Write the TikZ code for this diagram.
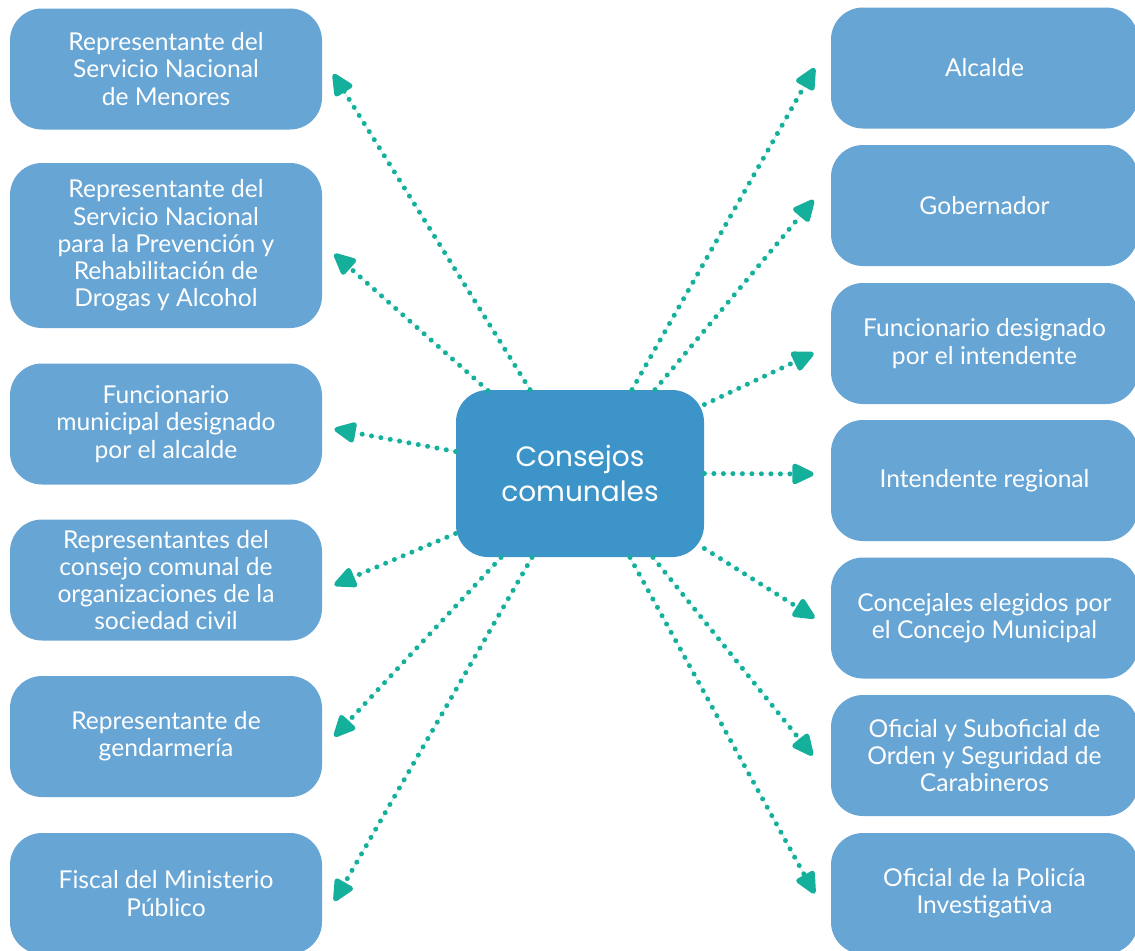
\documentclass[tikz,border=0pt]{standalone}
\usepackage{fontspec}
\setmainfont{Lato}
\newfontfamily\headfont{Poppins}
\usetikzlibrary{calc,arrows.meta}
\definecolor{boxblue}{RGB}{103,165,213}
\definecolor{mainblue}{RGB}{61,148,201}
\definecolor{linkteal}{RGB}{21,176,155}

\begin{document}
\begin{tikzpicture}[x=0.5pt,y=-0.5pt,
    member/.style={rectangle,rounded corners=16pt,fill=boxblue,text=white,inner sep=0pt,
        minimum width=156pt,minimum height=60.5pt,align=center,
        font=\fontsize{12.3}{13.6}\selectfont},
    council/.style={rectangle,rounded corners=16pt,fill=mainblue,text=white,inner sep=0pt,
        minimum width=124pt,minimum height=83.5pt,align=center,
        font=\headfont\fontsize{14}{17.5}\selectfont},
    link/.style={draw=linkteal,line width=2.5pt,line cap=round,
        dash pattern=on 0pt off 4.75pt,
        -{Triangle[length=12.5pt,width=11pt,round=false]},fill=linkteal}]
    \useasboundingbox (0,0) rectangle (1135,950);

    % left column
    \node[member] (sename) at (166,69) {Representante del\\Servicio Nacional\\de Menores};
    \node[member,minimum height=82.5pt] (senda) at (166,245.5) {Representante del\\Servicio Nacional\\para la Prevención y\\Rehabilitación de\\Drogas y Alcohol};
    \node[member] (funmun) at (166,424) {Funcionario\\municipal designado\\por el alcalde};
    \node[member] (orgciv) at (166,580) {Representantes del\\consejo comunal de\\organizaciones de la\\sociedad civil};
    \node[member] (gend) at (166,736.5) {Representante de\\gendarmería};
    \node[member] (fiscal) at (166,893.5) {Fiscal del Ministerio\\Público};

    % right column
    \node[member,minimum width=153.5pt] (alcalde) at (984.5,68) {Alcalde};
    \node[member,minimum width=153.5pt] (gober) at (984.5,205.5) {Gobernador};
    \node[member,minimum width=153.5pt] (funint) at (984.5,343.5) {Funcionario designado\\por el intendente};
    \node[member,minimum width=153.5pt] (intend) at (984.5,480.5) {Intendente regional};
    \node[member,minimum width=153.5pt] (concej) at (984.5,618) {Concejales elegidos por\\el Concejo Municipal};
    \node[member,minimum width=153.5pt] (carab) at (984.5,755.5) {Oficial y Suboficial de\\Orden y Seguridad de\\Carabineros};
    \node[member,minimum width=153.5pt] (pdi) at (984.5,893.5) {Oficial de la Policía\\Investigativa};

    \node[council] (cc) at (580,473.5) {Consejos\\comunales};

    % links to the left
    \draw[link] ($(cc.north)+(-50,0)$) -- ($(sename.east)+(11,5)$);
    \draw[link] ($(cc.north)+(-92,1)$) -- ($(senda.east)+(12,8.5)$);
    \draw[link] ($(cc.west)+(0,-22)$) -- ($(funmun.east)+(12,5)$);
    \draw[link] ($(cc.west)+(0,60)$) -- ($(orgciv.east)+(12,5)$);
    \draw[link] ($(cc.south)+(-79,0)$) -- ($(gend.east)+(12,0)$);
    \draw[link] ($(cc.south)+(-48,0)$) -- ($(fiscal.east)+(12,7.5)$);

    % links to the right
    \draw[link] ($(cc.north)+(52,0)$) -- ($(alcalde.west)+(-16,0)$);
    \draw[link] ($(cc.north)+(75,0)$) -- ($(gober.west)+(-17,-5.5)$);
    \draw[link] ($(cc.east)+(0,-69)$) -- ($(funint.west)+(-17,9.5)$);
    \draw[link] (cc.east) -- ($(intend.west)+(-17,-6.5)$);
    \draw[link] ($(cc.east)+(0,75)$) -- ($(concej.west)+(-16,0)$);
    \draw[link] ($(cc.south)+(73,0)$) -- ($(carab.west)+(-18,0)$);
    \draw[link] ($(cc.south)+(50,0)$) -- ($(pdi.west)+(-16,0)$);
\end{tikzpicture}
\end{document}
